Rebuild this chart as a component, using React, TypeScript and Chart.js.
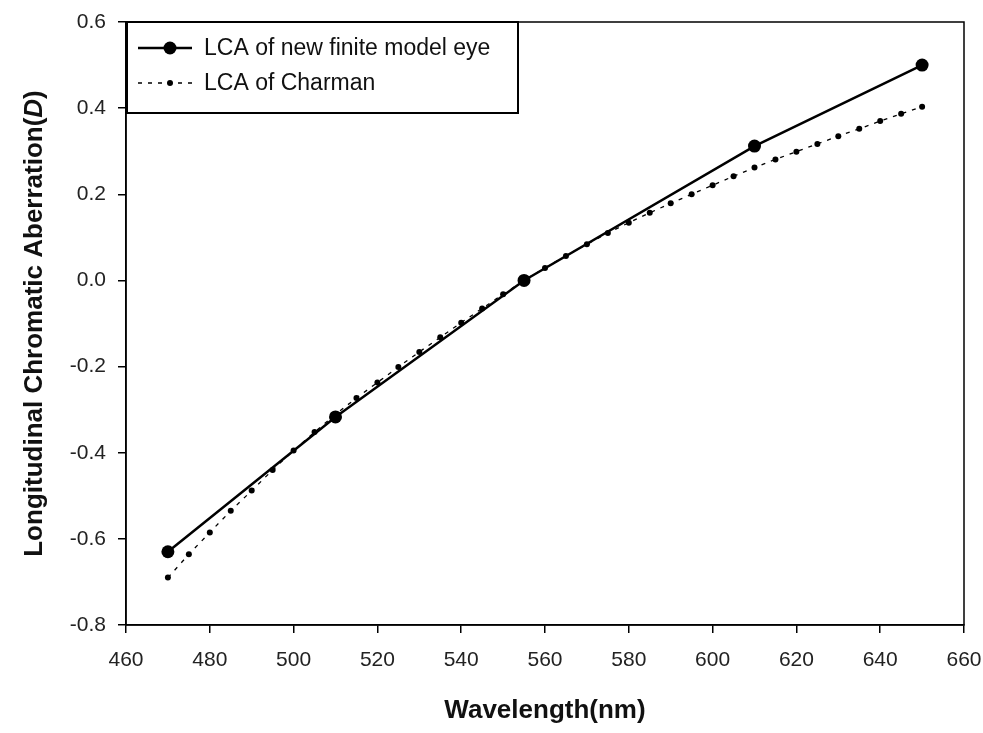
import React, { useEffect, useRef } from "react";
import { Chart, registerables } from "chart.js";

Chart.register(...registerables);

const modelWavelengths = [470, 510, 555, 610, 650];
const modelLCA = [-0.63, -0.317, 0.0, 0.312, 0.5];

const charmanWavelengths = [
  470, 475, 480, 485, 490, 495, 500, 505, 510, 515, 520, 525, 530, 535, 540,
  545, 550, 555, 560, 565, 570, 575, 580, 585, 590, 595, 600, 605, 610, 615,
  620, 625, 630, 635, 640, 645, 650,
];
const charmanLCA = [
  -0.69, -0.636, -0.585, -0.535, -0.488, -0.44, -0.395, -0.352, -0.311, -0.273,
  -0.237, -0.201, -0.166, -0.132, -0.098, -0.065, -0.032, 0.0, 0.029, 0.057,
  0.084, 0.11, 0.134, 0.157, 0.179, 0.2, 0.221, 0.242, 0.262, 0.281, 0.299,
  0.317, 0.335, 0.352, 0.37, 0.387, 0.403,
];

const seriesLabels = ["LCA of new finite model eye", "LCA of Charman"];
const xTitle = "Wavelength(nm)";
const yTitleParts = ["Longitudinal Chromatic Aberration(", "D", ")"];

const FONT = "'Liberation Sans', Arial, sans-serif";

const decorPlugin = {
  id: "decor",
  afterDraw(chart: any) {
    const { ctx, chartArea } = chart;
    ctx.save();
    // frame
    ctx.strokeStyle = "#000";
    ctx.lineWidth = 1.5;
    ctx.strokeRect(chartArea.left, chartArea.top, chartArea.right - chartArea.left, chartArea.bottom - chartArea.top);

    // x title
    ctx.fillStyle = "#111";
    ctx.font = `bold 26px ${FONT}`;
    ctx.textAlign = "center";
    ctx.textBaseline = "alphabetic";
    ctx.fillText(xTitle, (chartArea.left + chartArea.right) / 2, 718);

    // y title with italic D
    ctx.save();
    ctx.translate(42, (chartArea.top + chartArea.bottom) / 2);
    ctx.rotate(-Math.PI / 2);
    ctx.textAlign = "left";
    const fonts = [`bold 26px ${FONT}`, `italic bold 26px ${FONT}`, `bold 26px ${FONT}`];
    let total = 0;
    const widths = yTitleParts.map((t, i) => {
      ctx.font = fonts[i];
      const w = ctx.measureText(t).width;
      total += w;
      return w;
    });
    let xPos = -total / 2;
    yTitleParts.forEach((t, i) => {
      ctx.font = fonts[i];
      ctx.fillText(t, xPos, 0);
      xPos += widths[i];
    });
    ctx.restore();

    // legend box
    const bx = chartArea.left + 1;
    const by = chartArea.top;
    const bw = 391;
    const bh = 91;
    ctx.fillStyle = "#fff";
    ctx.fillRect(bx, by, bw, bh);
    ctx.strokeStyle = "#000";
    ctx.lineWidth = 2;
    ctx.strokeRect(bx, by, bw, bh);

    const rows = [
      { y: by + 26, ds: chart.data.datasets[0] },
      { y: by + 61, ds: chart.data.datasets[1] },
    ];
    rows.forEach((r, i) => {
      const ds = r.ds;
      ctx.save();
      ctx.strokeStyle = "#000";
      ctx.lineWidth = ds.borderWidth;
      ctx.setLineDash(ds.borderDash || []);
      ctx.beginPath();
      ctx.moveTo(bx + 11, r.y);
      ctx.lineTo(bx + 65, r.y);
      ctx.stroke();
      ctx.setLineDash([]);
      ctx.fillStyle = "#000";
      ctx.beginPath();
      ctx.arc(bx + 43, r.y, ds.pointRadius, 0, Math.PI * 2);
      ctx.fill();
      ctx.restore();
      ctx.fillStyle = "#111";
      ctx.font = `23px ${FONT}`;
      ctx.textAlign = "left";
      ctx.textBaseline = "middle";
      ctx.fillText(seriesLabels[i], bx + 77, r.y + 1);
    });
    ctx.restore();
  },
};

export default function App() {
  const ref = useRef<HTMLCanvasElement | null>(null);

  useEffect(() => {
    if (!ref.current) return;
    const chart = new Chart(ref.current, {
      type: "scatter",
      data: {
        datasets: [
          {
            label: seriesLabels[0],
            data: modelWavelengths.map((x, i) => ({ x, y: modelLCA[i] })),
            showLine: true,
            borderColor: "#000",
            backgroundColor: "#000",
            borderWidth: 2.5,
            pointRadius: 6.5,
            pointBackgroundColor: "#000",
            pointBorderWidth: 0,
            tension: 0,
          },
          {
            label: seriesLabels[1],
            data: charmanWavelengths.map((x, i) => ({ x, y: charmanLCA[i] })),
            showLine: true,
            borderColor: "#000",
            backgroundColor: "#000",
            borderWidth: 1.3,
            borderDash: [4, 6],
            pointRadius: 3,
            pointStyle: "circle",
            pointBackgroundColor: "#000",
            pointBorderWidth: 0,
            tension: 0,
          },
        ],
      },
      options: {
        animation: false,
        responsive: false,
        maintainAspectRatio: false,
        layout: { padding: { top: 22, right: 19, left: 0, bottom: 0 } },
        plugins: {
          legend: { display: false },
          tooltip: { enabled: false },
        },
        scales: {
          x: {
            type: "linear",
            min: 460,
            max: 660,
            afterFit: (s: any) => {
              s.height = 108;
              s.paddingLeft = 0;
              s.paddingRight = 0;
            },
            ticks: {
              stepSize: 20,
              color: "#222",
              font: { family: FONT, size: 21 },
              padding: 15,
              maxRotation: 0,
            },
            grid: {
              drawOnChartArea: false,
              drawTicks: true,
              tickLength: 8,
              color: "#000",
              lineWidth: 1.5,
            },
            border: { display: true, color: "#000", width: 1.5 },
          },
          y: {
            type: "linear",
            min: -0.8,
            max: 0.6,
            afterFit: (s: any) => {
              s.width = 126;
              s.paddingTop = 0;
              s.paddingBottom = 0;
            },
            ticks: {
              stepSize: 0.2,
              color: "#222",
              font: { family: FONT, size: 21 },
              padding: 12,
              callback: (v: any) => {
                const n = Math.abs(Number(v)) < 1e-9 ? 0 : Number(v);
                return n.toFixed(1);
              },
            },
            grid: {
              drawOnChartArea: false,
              drawTicks: true,
              tickLength: 8,
              color: "#000",
              lineWidth: 1.5,
            },
            border: { display: true, color: "#000", width: 1.5 },
          },
        },
      },
      plugins: [decorPlugin],
    });
    return () => chart.destroy();
  }, []);

  return (
    <div style={{ position: "absolute", left: 0, top: 0, width: 983, height: 733, background: "#fff" }}>
      <canvas ref={ref} width={983} height={733} style={{ display: "block" }} />
    </div>
  );
}
